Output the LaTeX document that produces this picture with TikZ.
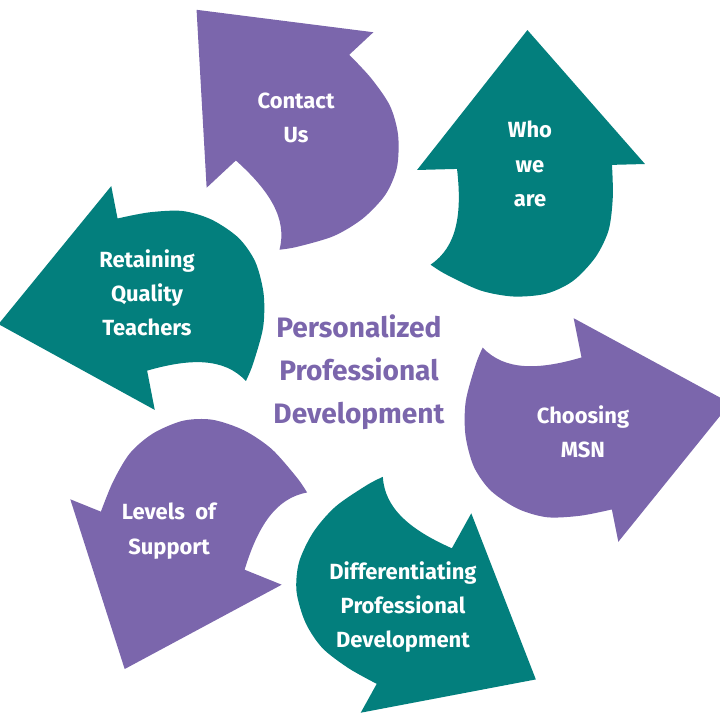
\documentclass[tikz,border=0pt]{standalone}
\usepackage{fontspec}
\setmainfont{Fira Sans}
\definecolor{msnpurple}{HTML}{7B66AC}
\definecolor{msnteal}{HTML}{037F7D}
\tikzset{
  arrowtext/.style={text=white, align=center, font=\bfseries\fontsize{12.5}{19.5}\selectfont},
  titletext/.style={text=msnpurple, align=center, font=\bfseries\fontsize{16}{24.5}\selectfont}
}

\begin{document}
\begin{tikzpicture}[x=0.02cm, y=0.02cm]
  \useasboundingbox (0,0) rectangle (719,-722);
  % one curved arrow, pointing up, origin at the middle of the head base
  \def\arrowpath{(0,137) -- (-114,0) -- (-74,0) .. controls (-70,-45) and (-76,-78) .. (-103,-95)
    -- plot[smooth] coordinates {(-103,-95) (-88,-105) (-54,-122) (-21,-129) (12,-127) (39,-115) (62,-92) (76,-65) (81,-32) (81,0)}
    -- (114,0) -- cycle}
  \foreach \px/\py/\rot/\col in {290/110/43/msnpurple, 531/167/1.5/msnteal, 596/430/-78.7/msnpurple,
                                 416/613/-119/msnteal, 176/542/158/msnpurple, 133/298/101/msnteal}
    \fill[\col, shift={(\px,-\py)}, rotate=\rot] \arrowpath;

  \node[arrowtext] (contact) at (296,-118) {Contact\\Us};
  \node[arrowtext] (who) at (530,-164) {Who\\we\\are};
  \node[arrowtext] (choosing) at (583,-432) {Choosing\\MSN};
  \node[arrowtext] (diff) at (403,-607) {Differentiating\\Professional\\Development};
  \node[arrowtext] (levels) at (169,-531) {Levels\ \ of\\Support};
  \node[arrowtext] (retaining) at (147,-293) {Retaining\\Quality\\Teachers};
  \node[titletext] (title) at (359,-372) {Personalized\\Professional\\Development};
\end{tikzpicture}
\end{document}
